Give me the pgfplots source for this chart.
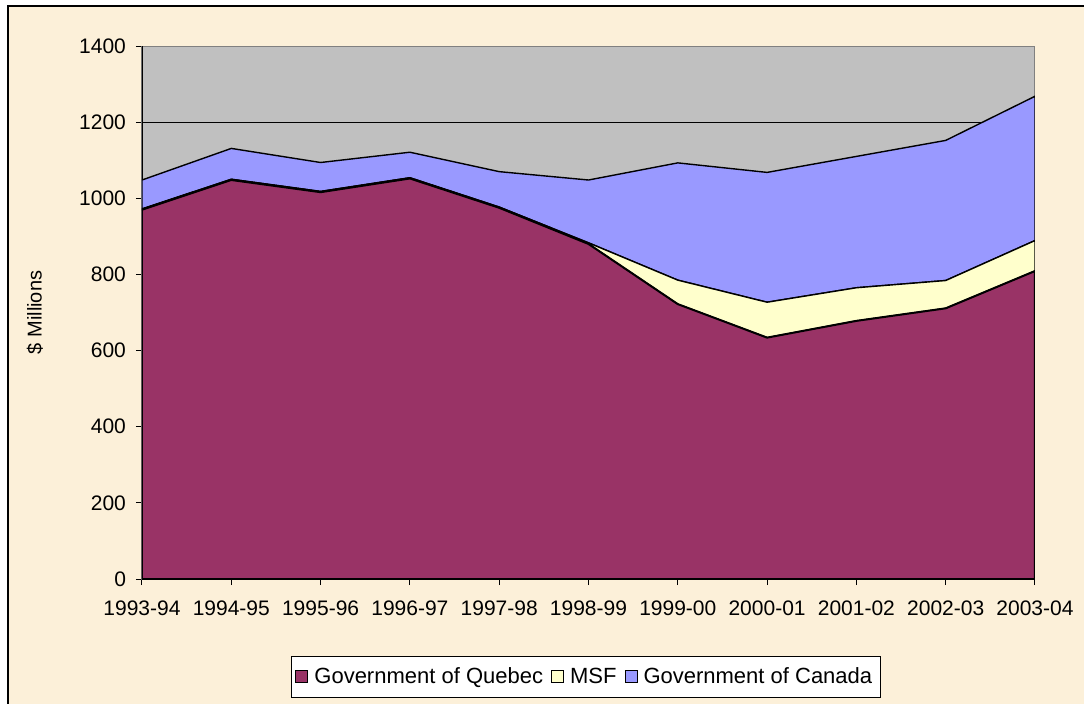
\documentclass[border=0pt]{standalone}
\usepackage{fontspec}
\setmainfont{Liberation Sans}
\usepackage{pgfplots}
\pgfplotsset{compat=1.18}
\definecolor{bgbeige}{HTML}{FCF0D9}
\definecolor{plotgray}{HTML}{C0C0C0}
\definecolor{quebec}{HTML}{993366}
\definecolor{msf}{HTML}{FFFFCC}
\definecolor{canada}{HTML}{9999FF}
\begin{document}
\begin{tikzpicture}
\useasboundingbox (-71pt,-62pt) rectangle (471pt,289.5pt);
\fill[bgbeige] (-67pt,-70pt) rectangle (480pt,286.5pt);
\draw[black,line width=0.6pt] (-67pt,-70pt) -- (-67pt,286.5pt) -- (480pt,286.5pt);
\begin{axis}[
    at={(0pt,0pt)}, anchor=south west,
    scale only axis,
    width=446.5pt, height=266.5pt,
    xmin=0, xmax=10, ymin=0, ymax=1400,
    xtick={0,...,10},
    xticklabels={1993-94,1994-95,1995-96,1996-97,1997-98,1998-99,1999-00,2000-01,2001-02,2002-03,2003-04},
    ytick={0,200,...,1400},
    xtick pos=bottom, ytick pos=left,
    tick align=outside,
    major tick length=3pt,
    tick style={black, line width=0.5pt},
    x tick label style={font=\fontsize{10.5}{12}\selectfont, yshift=-4.5pt},
    y tick label style={font=\fontsize{10.5}{12}\selectfont, xshift=-1.5pt},
    /pgf/number format/assume math mode=true,
    /pgf/number format/1000 sep={},
    axis line style={draw=gray, line width=0.5pt},
    axis background/.style={fill=plotgray},
    ymajorgrids,
    grid style={black, line width=0.5pt},
    ylabel={\$ Millions},
    ylabel style={font=\fontsize{10}{12}\selectfont, at={(axis description cs:-0.12,0.5)}, anchor=center},
    stack plots=y,
    area legend,
    legend columns=-1,
    legend style={at={(0.497,-0.1445)}, anchor=north, draw=black, fill=white,
        font=\fontsize{11}{13}\selectfont, line width=0.5pt,
        inner xsep=2pt, inner ysep=3.5pt,
        /tikz/every even column/.append style={column sep=2pt},
        /tikz/every odd column/.append style={column sep=1pt}},
    legend image code/.code={\draw[#1, draw=black, line width=0.5pt] (0pt,-3pt) rectangle (6pt,3pt);},
]
\addplot[fill=quebec, draw=black, line width=1pt] coordinates {
(0,970) (1,1048) (2,1016) (3,1052) (4,975) (5,880) (6,722) (7,634) (8,678) (9,711) (10,809)} \closedcycle;
\addplot[fill=msf, draw=black, line width=0.7pt] coordinates {
(0,2) (1,2) (2,2) (3,2) (4,2) (5,3) (6,63) (7,93) (8,87) (9,73) (10,80)} \closedcycle;
\addplot[fill=canada, draw=black, line width=0.7pt] coordinates {
(0,76) (1,81) (2,76) (3,67) (4,93) (5,165) (6,308) (7,341) (8,345) (9,368) (10,379)} \closedcycle;
\legend{Government of Quebec, MSF, Government of Canada}
\draw[black, line width=0.6pt] (rel axis cs:0,1) -- (rel axis cs:0,0) -- (rel axis cs:1,0);
\end{axis}
\end{tikzpicture}
\end{document}
